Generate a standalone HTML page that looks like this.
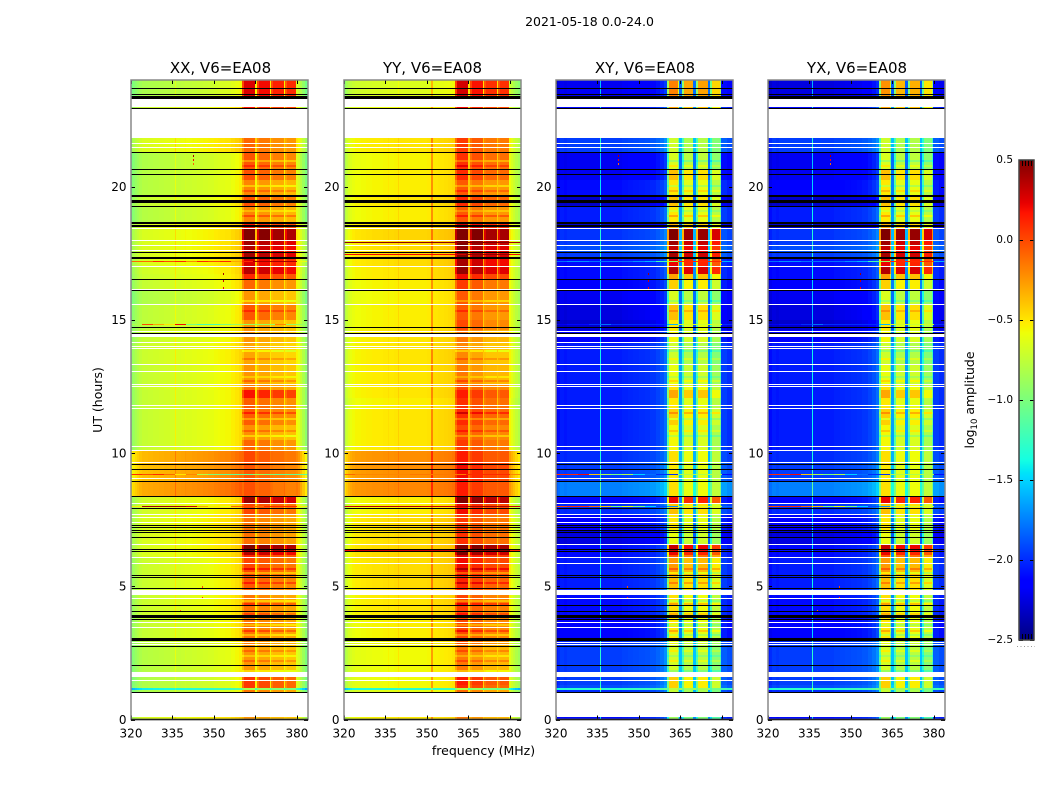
<!DOCTYPE html>
<html lang="en">
<head>
<meta charset="utf-8">
<title>2021-05-18 0.0-24.0</title>
<style>
html,body{margin:0;padding:0;background:#fff;width:1050px;height:800px;overflow:hidden}
svg{display:block}
text{font-family:"DejaVu Sans","Liberation Sans",sans-serif;fill:#000}
.tick{font-size:12px}
.title{font-size:15px;text-anchor:middle}
.label{font-size:12.5px;text-anchor:middle}
</style>
</head>
<body>
<svg id="chart" xmlns="http://www.w3.org/2000/svg" width="1050" height="800" viewBox="0 0 1050 800">
  <rect x="0" y="0" width="1050" height="800" fill="#fff"/>
  <text x="589.5" y="26" text-anchor="middle" style="font-size:12.5px">2021-05-18 0.0-24.0</text>
  <g id="panels"></g>
  <text class="title" x="220.5" y="73">XX, V6=EA08</text>
  <text class="title" x="432.5" y="73">YY, V6=EA08</text>
  <text class="title" x="645" y="73">XY, V6=EA08</text>
  <text class="title" x="857" y="73">YX, V6=EA08</text>
  <text class="label" x="483.5" y="755">frequency (MHz)</text>
  <text class="label" transform="translate(102,400) rotate(-90)">UT (hours)</text>
  <g id="colorbar"></g>
  <text class="label" transform="translate(974,400) rotate(-90)">log<tspan dy="3" style="font-size:8.5px">10</tspan><tspan dy="-3"> amplitude</tspan></text>
</svg>
<script>
// ---- Data ----
const xTickLabels = [320, 335, 350, 365, 380];
const yTickLabels = [0, 5, 10, 15, 20];
const colorbarTickLabels = [-2.5, -2.0, -1.5, -1.0, -0.5, 0.0, 0.5];

// Channel bin edges, MHz
const channelEdges = [320,320.7,321.4,322.2,323,324,326,328,330,332,334,335.8,336.3,338,339.5,340,342,344,346,348,350,351.4,352,354,356,357.5,359,360.3,361,364,364.4,365,365.7,366.2,369.6,370.1,370.7,371.2,374.8,375.3,375.8,376.3,379.2,379.7,380.3,381,382,383,384];

// Time block edges, hours (top to bottom)
const rowEdges = [24.00,23.29,22.99,22.91,21.82,21.29,20.62,20.25,19.65,19.27,18.67,18.45,17.99,17.77,17.54,17.32,17.02,16.72,16.49,16.16,15.59,14.99,14.62,14.17,13.34,12.59,12.37,12.07,11.69,11.05,10.49,10.11,9.66,8.95,8.39,8.12,7.71,7.11,6.55,6.32,6.10,5.42,4.86,4.67,3.88,2.98,2.80,1.78,1.60,1.29,1.18,1.11,0.99,0.08,0];

// log10 amplitude per time block: out-of-band level and in-band level
const xxBase = [-.72,null,-.6,null,-.55,-.7,-.68,-.68,-.62,-.68,
 -.55,-.55,-.55,-.55,-.55,-.55,-.58,-.6,-.62,-.7,
 -.65,-.65,-.62,-.6,-.62,-.6,-.62,-.62,-.62,-.62,
 -.62,-.25,-.27,-.2,-.58,-.58,-.55,-.55,-.55,-.55,
 -.6,-.6,null,-.6,-.62,-.65,-.68,null,-.7,-.7,
 -1.3,-.72,null,-.55];
const xxBand = [.2,null,.1,null,-.15,-.1,-.08,-.25,-.08,-.25,
 .1,.48,.35,.3,.35,.2,.3,.05,-.15,-.3,
 -.1,-.3,-.3,-.35,-.3,-.2,.12,-.12,-.12,-.28,
 -.15,-.05,-.1,-.08,.38,-.05,-.2,-.18,.48,.3,
 -.05,-.1,null,-.2,-.2,-.25,-.3,null,0,0,
 -.9,-.2,null,-.3];
const yyBase = [-.65,null,-.58,null,-.5,-.55,-.53,-.53,-.5,-.53,
 -.47,-.45,-.47,-.47,-.45,-.47,-.5,-.5,-.53,-.55,
 -.53,-.53,-.5,-.5,-.5,-.5,-.5,-.53,-.5,-.5,
 -.5,-.22,-.22,-.2,-.53,-.53,-.47,-.47,-.45,-.45,
 -.47,-.47,null,-.5,-.53,-.55,-.57,null,-.57,-.57,
 -1.3,-.62,null,-.52];
const yyBand = [.18,null,.1,null,-.05,-.02,0,-.15,0,-.15,
 .2,.5,.42,.35,.38,.3,.35,.1,-.05,-.15,
 -.15,-.1,-.25,-.3,-.25,-.1,.05,-.02,0,-.1,
 -.05,.05,.1,.05,.45,.1,-.05,-.02,.5,.4,
 .1,.02,null,-.08,-.1,-.15,-.25,null,.05,0,
 -.9,-.2,null,-.25];
const xyBase = [-2.2,null,-2.1,null,-1.95,-2.2,-2.2,-2.1,-2.3,-2.05,
 -2.3,-1.98,-1.95,-1.9,-1.95,-2.1,-2.1,-2.1,-2.15,-2.2,
 -2.25,-2.3,-2.15,-2.05,-2.05,-2.05,-2.05,-2.05,-2.05,-2.05,
 -2.05,-2.0,-1.95,-1.75,-2.15,-2.0,-2.15,-2.25,-2.1,-2.1,
 -2.05,-2.05,null,-2.1,-2.15,-2.0,-1.95,null,-1.95,-1.9,
 -1.3,-2.0,null,-2.1];
const xyBand = [-.3,null,-.4,null,-.82,-.78,-.5,-.63,-.5,-.63,
 -.45,.42,.3,.2,.28,.1,.25,-.4,-.55,-.78,
 -.5,-.63,-.68,-.82,-.72,-.6,-.42,-.63,-.55,-.68,
 -.68,-.6,-.63,-.6,.1,-.5,-.63,-.72,.2,.1,
 -.38,-.5,null,-.6,-.63,-.72,-.8,null,-.55,-.55,
 -.9,-.85,null,-1];
const yxBase = [-2.25,null,-2.1,null,-1.95,-2.2,-2.2,-2.15,-2.3,-2.05,
 -2.3,-1.98,-1.95,-1.9,-1.95,-2.1,-2.1,-2.1,-2.15,-2.2,
 -2.25,-2.3,-2.15,-2.05,-2.05,-2.05,-2.05,-2.05,-2.05,-2.05,
 -2.05,-2.0,-1.95,-1.75,-2.15,-2.0,-2.15,-2.25,-2.1,-2.1,
 -2.05,-2.05,null,-2.1,-2.15,-2.0,-1.95,null,-1.95,-1.9,
 -1.3,-2.0,null,-2.1];
const yxBand = [-.35,null,-.4,null,-.82,-.78,-.5,-.63,-.5,-.63,
 -.45,.42,.3,.2,.28,.1,.25,-.4,-.55,-.78,
 -.5,-.63,-.68,-.82,-.72,-.6,-.42,-.63,-.55,-.68,
 -.68,-.6,-.63,-.6,.1,-.5,-.63,-.72,.2,.1,
 -.38,-.5,null,-.6,-.63,-.72,-.8,null,-.55,-.55,
 -.9,-.85,null,-1];

// Spectral shape per channel, added to the block level
const xxShape = [-.3,-.26,-.22,-.18,-.14,-.11,-.1,-.09,-.08,-.07,-.06,.08,-.05,-.04,-.01,-.03,-.02,-.01,0,.01,.03,.04,.05,.06,.09,.12,.15,0,.06,.06,.06,.08,0,0,0,.08,-.02,-.07,-.07,.08,-.07,-.1,-.1,.05,0,-.1,-.2,-.32];
const yyShape = [-.28,-.2,-.14,-.1,-.07,-.05,-.04,-.03,-.02,-.02,-.01,.02,-.01,0,.07,0,0,0,0,0,.01,.3,.03,.04,.05,.06,.08,.02,.1,.1,.1,.08,0,0,0,.08,-.04,-.1,-.1,.08,-.06,-.1,-.1,-.05,-.12,-.18,-.24,-.3];
const xyShape = [-.1,-.05,0,0,-.02,0,0,0,0,0,0,.65,0,0,0,0,0,.02,.03,.04,.05,.05,.06,.08,.12,.17,.25,-.1,.12,.02,.4,.4,-.05,0,.4,.4,-.05,.02,.4,.4,-.15,-.15,-.15,.1,.1,.1,.05,.05];
const yxShape = [-.1,-.05,0,0,-.02,0,0,0,0,0,0,.65,0,0,0,0,0,.02,.03,.04,.05,.05,.06,.08,.12,.17,.25,-.1,.12,.02,.4,.4,-.05,0,.4,.4,-.05,.02,.4,.4,-.15,-.15,-.15,.1,.1,.1,.05,.05];

// Fraction of the in-band level reached by each channel
const autoBandWeight = [0,0,0,0,0,0,0,0,0,0,0,0,0,0,0,0,0,0,0,0,0,0,0,0,0,0,0,.8,1,1,1,.1,.8,1,1,.1,.8,1,1,.1,.8,1,1,0,0,0,0,0];
const crossBandWeight = [0,0,0,0,0,0,0,0,0,0,0,0,0,0,0,0,0,0,0,0,0,0,0,0,0,0,0,.75,1,.8,0,0,.7,1,0,0,.7,1,0,0,.7,1,.8,0,0,0,0,0];

// Short in-band scans that differ from their block: hours and level offset
const stripeHours = [21.0,20.81,20.06,19.87,19.12,18.93,15.74,15.37,13.87,13.57,12.89,12.74,11.54,11.32,10.86,10.68,6.17,5.68,5.53,5.16,4.48,4.37,3.99,3.58,3.36,3.21,2.61,2.42,2.23,1.86];
const stripeDelta = [-.2,.15,-.2,.15,-.15,.2,-.2,.15,-.2,.15,-.15,.15,.2,-.2,.15,-.2,-.25,.2,-.25,.2,-.2,.2,.15,-.2,.2,-.2,.15,-.15,.15,-.2];

// Narrow interference scans: hours, segment edges in MHz, log10 amplitude per segment
const rfiHours = [17.92,17.47,17.2,14.85,9.23,8.02,6.36];
const rfiEdges = [320,324,328,332,336,340,344,348,352,356,360,364,368,372,376,380,384];
const rfiXx = [
 null,
 null,
 [-.1,-.1,.1,0,.1,-.2,.1,0,.1,-.3,.1,.4,.4,.4,.4,-.6],
 [-.8,0,-.3,-.5,.2,-1,-1.2,-1.2,-1,-.9,-.9,-.9,-.9,-.2,-.9,-.9],
 [.1,0,.1,-.1,-.5,-.2,-.8,-1,-1.1,-1.1,-1.1,-.9,-1,-1.1,-1.1,-1.1],
 [-.5,.4,.4,.4,.4,.3,-.3,-.5,-.6,-.1,0,-.1,.1,.1,.1,-.5],
 null];
const rfiYy = [
 [.45,.45,.45,.45,.45,.45,.45,.45,.45,.45,.45,.5,.5,.5,.5,.4],
 [.2,.2,.2,.2,.2,.2,.2,.2,.2,.2,.3,.45,.45,.45,.45,.2],
 null,
 null,
 [-.1,-.2,-.2,-.2,-.2,-.2,-.15,-.15,-.15,-.15,-.15,.1,.1,.1,.1,-.2],
 [.3,.35,.35,.35,.35,.35,.35,.3,.3,.3,.35,.4,.4,.4,.4,.3],
 [.2,.3,.3,.3,.3,.3,.3,.3,.3,.3,.35,.5,.5,.5,.5,.1]];
const rfiXy = [
 null,
 null,
 [-1.8,-1.7,-1.7,-1.8,-1.8,-1.8,-1.8,-1.7,-1.6,-1.2,-.9,.1,.1,.1,.1,-1.6],
 [-2.2,-2.1,-2.1,-2,-1.8,-2,-2,-2,-2,-2,-1.6,-.7,-.7,-.7,-.7,-2],
 [.1,.1,.2,-.4,-.8,-1,-.8,-1.5,-1.8,-2,-2,-.8,-.8,-.8,-.8,-2.1],
 [0,.1,.1,-.1,-.4,-1,-.6,-1,-1.5,-1.9,-1.7,-.7,-.7,-.7,-.7,-1.8],
 null];
const rfiYx = [
 null,
 null,
 [-1.8,-1.7,-1.7,-1.8,-1.8,-1.8,-1.8,-1.7,-1.6,-1.2,-.9,.1,.1,.1,.1,-1.6],
 [-2.2,-2.1,-2.1,-2,-1.8,-2,-2,-2,-2,-2,-1.6,-.7,-.7,-.7,-.7,-2],
 [.1,.1,.2,-.4,-.8,-1,-.8,-1.5,-1.8,-2,-2,-.8,-.8,-.8,-.8,-2.1],
 [0,.1,.1,-.1,-.4,-1,-.6,-1,-1.5,-1.9,-1.7,-.7,-.7,-.7,-.7,-1.8],
 null];

// Isolated interference specks
const speckFreq = [342.3,342.3,342.3,353.4,353.4,353.4,345.5,345.5,337.6];
const speckHour = [21.2,21.05,20.9,16.75,16.5,16.25,5.0,4.6,4.1];
const speckValue = [.4,.2,-.1,.4,.3,.2,0,.1,-.1];

// Flagged scans, hours: black = flagged, white = no data
const blackScans = [23.69,23.46,22.94,21.29,20.65,20.46,19.26,17.56,16.52,16.11,14.72,14.51,9.58,9.39,8.95,8.39,7.93,7.30,7.21,7.11,7.03,6.86,6.39,6.32,5.43,5.36,4.92,4.29,4.08,3.76,2.75,2.03,1.03];
const blackStarts = [23.39,19.70,19.51,18.68,18.57,17.36,3.94,3.05];
const blackEnds = [23.29,19.62,19.40,18.60,18.47,17.29,3.82,2.95];
const whiteScans = [21.62,21.47,18.45,17.98,17.79,17.62,17.01,16.14,15.58,14.59,14.16,14.03,13.93,13.33,13.08,12.58,12.53,11.79,11.69,10.26,10.11,9.65,9.05,8.11,7.71,7.59,7.40,6.59,6.09,5.86,4.55,3.65,3.46,2.90,2.83,1.48];
const whiteStarts = [14.48];
const whiteEnds = [14.37];

// Panel series lookups
const panelNames = ['xx','yy','xy','yx'];
const panelBase = [xxBase,yyBase,xyBase,yxBase];
const panelBand = [xxBand,yyBand,xyBand,yxBand];
const panelShape = [xxShape,yyShape,xyShape,yxShape];
const panelWeight = [autoBandWeight,autoBandWeight,crossBandWeight,crossBandWeight];
const panelRfi = [rfiXx,rfiYy,rfiXy,rfiYx];

// ---- Axis functions ----
const NS = 'http://www.w3.org/2000/svg';
const axTop = 80, axBottom = 719.5, axWidth = 177;
const axLefts = [131, 344, 556, 768];
const freqMin = 320, freqMax = 384, hourMax = 24;
function xScale(left, f){ return left + (f - freqMin) / (freqMax - freqMin) * axWidth; }
function yScale(h){ return axBottom - h / hourMax * (axBottom - axTop); }
const cbTop = 160, cbBottom = 640, cbLeft = 1019, cbRight = 1034, cbMin = -2.5, cbMax = 0.5;
function cbScale(v){ return cbBottom - (v - cbMin) / (cbMax - cbMin) * (cbBottom - cbTop); }

function lerpTable(t, xs, ys){
  if (t <= xs[0]) return ys[0];
  for (let i = 1; i < xs.length; i++) {
    if (t <= xs[i]) return ys[i-1] + (ys[i] - ys[i-1]) * (t - xs[i-1]) / (xs[i] - xs[i-1]);
  }
  return ys[ys.length-1];
}
function jet(v){
  const t = Math.max(0, Math.min(1, (v - cbMin) / (cbMax - cbMin)));
  const r = lerpTable(t, [.35,.66,.89,1], [0,1,1,.5]);
  const g = lerpTable(t, [.125,.375,.64,.91], [0,1,1,0]);
  const b = lerpTable(t, [0,.11,.34,.65], [.5,1,1,0]);
  return 'rgb(' + Math.round(r*255) + ',' + Math.round(g*255) + ',' + Math.round(b*255) + ')';
}
function make(parent, tag, attrs){
  const el = document.createElementNS(NS, tag);
  for (const k in attrs) el.setAttribute(k, attrs[k]);
  parent.appendChild(el);
  return el;
}
function pxRect(parent, x0, x1, y0, y1, fill){
  const xa = Math.round(x0), xb = Math.round(x1), ya = Math.round(y0), yb = Math.max(Math.round(y1), Math.round(y0) + 1);
  return make(parent, 'rect', {x: xa, y: ya, width: Math.max(xb - xa, 1), height: yb - ya, fill: fill, 'shape-rendering': 'crispEdges'});
}
function rowIndexAt(h){
  for (let i = 0; i < rowEdges.length - 1; i++) {
    if (h <= rowEdges[i] && h > rowEdges[i+1]) return i;
  }
  return -1;
}

const panelsRoot = document.getElementById('panels');
panelNames.forEach(function(name, p){
  const left = axLefts[p];
  const right = left + axWidth;
  const g = make(panelsRoot, 'g', {});
  
  

  const base = panelBase[p], band = panelBand[p], shape = panelShape[p], weight = panelWeight[p], rfi = panelRfi[p];
  const cells = make(g, 'g', {});
  
  

  for (let i = 0; i < rowEdges.length - 1; i++) {
    if (base[i] === null) continue;
    for (let j = 0; j < channelEdges.length - 1; j++) {
      const v = base[i] + weight[j] * (band[i] - base[i]) + shape[j];
      const cell = pxRect(cells, xScale(left, channelEdges[j]), xScale(left, channelEdges[j+1]), yScale(rowEdges[i]), yScale(rowEdges[i+1]), jet(v));
      
      
    }
  }
  stripeHours.forEach(function(h, s){
    const i = rowIndexAt(h);
    if (i < 0 || base[i] === null) return;
    for (let j = 0; j < channelEdges.length - 1; j++) {
      if (weight[j] < 0.7) continue;
      const v = base[i] + weight[j] * (band[i] + stripeDelta[s] - base[i]) + shape[j];
      const st = pxRect(g, xScale(left, channelEdges[j]), xScale(left, channelEdges[j+1]), yScale(h), yScale(h) + 2, jet(v));
      
      
    }
  });
  rfiHours.forEach(function(h, r){
    if (!rfi[r]) return;
    rfi[r].forEach(function(v, s){
      const seg = pxRect(g, xScale(left, rfiEdges[s]), xScale(left, rfiEdges[s+1]), yScale(h), yScale(h) + 1, jet(v));
      
      
    });
  });
  if (name !== 'yy') {
    speckFreq.forEach(function(f, s){
      const x = xScale(left, f);
      const sp = pxRect(g, x, x + 1, yScale(speckHour[s]), yScale(speckHour[s]) + 2, jet(speckValue[s]));
      
      
    });
  }
  whiteScans.forEach(function(h){
    const ln = pxRect(g, left, right, yScale(h), yScale(h) + 1, '#fff');
    
    
  });
  whiteStarts.forEach(function(h, k){
    const ln = pxRect(g, left, right, yScale(h), yScale(whiteEnds[k]), '#fff');
    
    
  });
  blackScans.forEach(function(h){
    const ln = pxRect(g, left, right, yScale(h), yScale(h) + 1, '#000');
    
    
  });
  blackStarts.forEach(function(h, k){
    const ln = pxRect(g, left, right, yScale(h), yScale(blackEnds[k]), '#000');
    
    
  });

  // Ticks
  xTickLabels.forEach(function(f){
    const x = Math.round(xScale(left, f)) + 0.5;
    const t1 = make(g, 'line', {x1: x, x2: x, y1: axBottom, y2: axBottom - 4, stroke: '#000', 'stroke-width': 1});
    
    
    const t2 = make(g, 'line', {x1: x, x2: x, y1: axTop, y2: axTop + 4, stroke: '#000', 'stroke-width': 1});
    
    
    const lb = make(g, 'text', {x: xScale(left, f), y: 737.5, 'text-anchor': 'middle', class: 'tick'});
    
    
    lb.textContent = String(f);
  });
  yTickLabels.forEach(function(h){
    const y = Math.round(yScale(h)) + 0.5;
    const t1 = make(g, 'line', {x1: left, x2: left + 4, y1: y, y2: y, stroke: '#000', 'stroke-width': 1});
    
    
    const t2 = make(g, 'line', {x1: right, x2: right - 4, y1: y, y2: y, stroke: '#000', 'stroke-width': 1});
    
    
    const lb = make(g, 'text', {x: left - 4.5, y: yScale(h) + 4.3, 'text-anchor': 'end', class: 'tick'});
    
    
    lb.textContent = String(h);
  });
  // Spine: anti-aliased frame, grey on top and sides with a darker bottom
  const frame = make(g, 'rect', {x: left, y: axTop, width: axWidth, height: axBottom - axTop, fill: 'none', stroke: '#888', 'stroke-width': 1.5});
  
  
  const bottomEdge = make(g, 'line', {x1: left, x2: right, y1: axBottom, y2: axBottom, stroke: '#222', 'stroke-width': 1.5});
  
  
});

// ---- Colorbar ----
const cbRoot = document.getElementById('colorbar');
for (let py = cbTop; py < cbBottom; py++) {
  const v = cbMax - (py - cbTop + 0.5) / (cbBottom - cbTop) * (cbMax - cbMin);
  const strip = make(cbRoot, 'rect', {x: cbLeft, y: py, width: cbRight - cbLeft, height: 1, fill: jet(v), 'shape-rendering': 'crispEdges'});
  
  
}
colorbarTickLabels.forEach(function(v){
  const y = Math.round(cbScale(v));
  const t1 = make(cbRoot, 'line', {x1: cbLeft, x2: cbLeft + 4, y1: y + .5, y2: y + .5, stroke: '#000', 'stroke-width': 1});
  
  
  const t2 = make(cbRoot, 'line', {x1: cbRight, x2: cbRight - 4, y1: y + .5, y2: y + .5, stroke: '#000', 'stroke-width': 1});
  
  
  const lb = make(cbRoot, 'text', {x: 1013, y: cbScale(v) + 3, 'text-anchor': 'end', class: 'tick', style: 'font-size:10.5px'});
  
  
  lb.textContent = v.toFixed(1).replace('-', '\u2212');
});
[1022.5, 1025.5, 1028.5, 1031.5].forEach(function(x){
  const a = make(cbRoot, 'line', {x1: x, x2: x, y1: cbTop, y2: cbTop + 6, stroke: '#000', 'stroke-width': 1});
  
  
  const b = make(cbRoot, 'line', {x1: x, x2: x, y1: cbBottom, y2: cbBottom - 6, stroke: '#000', 'stroke-width': 1});
  
  
});
const cbFrame = make(cbRoot, 'rect', {x: cbLeft, y: cbTop, width: cbRight - cbLeft, height: cbBottom - cbTop, fill: 'none', stroke: '#444', 'stroke-width': 1.5});


const cbDots = make(cbRoot, 'line', {x1: 1017, x2: 1035, y1: 646.5, y2: 646.5, stroke: '#999', 'stroke-width': 1, 'stroke-dasharray': '1 2.5'});


</script>
</body>
</html>
